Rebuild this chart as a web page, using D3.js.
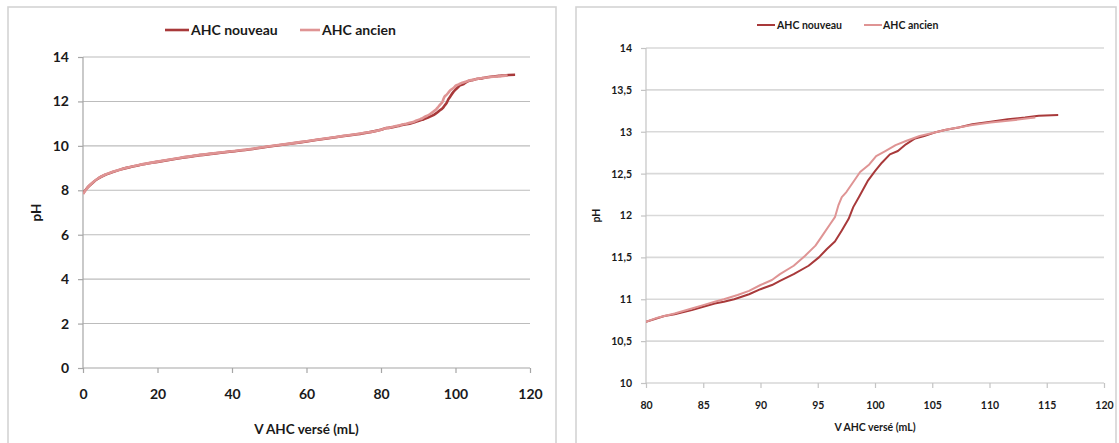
<!DOCTYPE html>
<html>
<head>
<meta charset="utf-8">
<script src="https://cdn.jsdelivr.net/npm/d3@7"></script>
<style>
  html, body { margin: 0; padding: 0; background: #fff; }
  svg { display: block; font-family: Lato, "Open Sans", sans-serif; font-weight: bold; }
</style>
</head>
<body>
<svg id="chart" width="1119" height="443"></svg>
<script>
// ---- Data ----
const seriesNames = ["AHC nouveau", "AHC ancien"];

const nouveauV = [0,1,2,3,4,5,6,8,10,12,15,20,25,30,35,40,45,50,55,60,65,70,75,80,81.6,82.5,84,85,86,86.8,87.7,89,90,91,91.7,92.9,94.2,95.1,95.8,96.5,97.1,97.7,98.1,98.6,99.4,100,100.6,101.3,102,102.7,103.5,104.3,105.2,106.1,107.3,108.5,110.1,111.6,113.1,114.3,116];
const nouveauPH = [7.85,8.08,8.25,8.4,8.52,8.62,8.7,8.82,8.93,9.02,9.13,9.28,9.42,9.55,9.65,9.75,9.85,9.97,10.08,10.2,10.32,10.44,10.56,10.73,10.8,10.82,10.87,10.91,10.95,10.97,11.0,11.06,11.12,11.17,11.22,11.3,11.4,11.5,11.6,11.69,11.82,11.96,12.1,12.22,12.42,12.53,12.63,12.73,12.77,12.85,12.92,12.95,12.99,13.02,13.05,13.09,13.12,13.15,13.17,13.19,13.2];

const ancienV = [0,1,2,3,4,5,6,8,10,12,15,20,25,30,35,40,45,50,55,60,65,70,75,80,81,82.5,84,85,86,86.8,88,89,90,91,91.7,92.9,93.9,94.8,95.4,96,96.5,96.8,97.1,97.5,98.1,98.7,99.5,100.1,100.9,101.8,102.7,103.9,105.2,106.4,108.5,110.1,111.6,113.4,114];
const ancienPH = [7.83,8.07,8.26,8.41,8.53,8.63,8.71,8.83,8.94,9.03,9.14,9.29,9.43,9.56,9.66,9.76,9.86,9.98,10.09,10.21,10.33,10.45,10.57,10.73,10.78,10.83,10.89,10.93,10.97,11.0,11.05,11.1,11.17,11.23,11.3,11.4,11.52,11.64,11.76,11.88,11.98,12.12,12.22,12.28,12.4,12.52,12.61,12.71,12.77,12.84,12.89,12.95,12.99,13.03,13.08,13.11,13.13,13.16,13.17];

const leftXTicks = [0,20,40,60,80,100,120];
const leftYTicks = [0,2,4,6,8,10,12,14];
const rightXTicks = [80,85,90,95,100,105,110,115,120];
const rightYTicks = [10,10.5,11,11.5,12,12.5,13,13.5,14];

const xTitle = "V AHC versé (mL)";
const yTitle = "pH";

// ---- Drawing ----
const colors = ["#a8393a", "#df9494"];
const svg = d3.select("#chart");

const seriesData = [
  nouveauV.map((v, i) => ({v, ph: nouveauPH[i]})),
  ancienV.map((v, i) => ({v, ph: ancienPH[i]}))
];

function drawChart(cfg) {
  const g = svg.append("g");
  g.append("rect")
    .attr("x", cfg.panel[0]).attr("y", cfg.panel[1])
    .attr("width", cfg.panel[2]).attr("height", cfg.panel[3])
    .attr("fill", "#fff").attr("stroke", "#d4d4d4").attr("stroke-width", 1.6);

  const x = d3.scaleLinear().domain(cfg.xDomain).range([cfg.plot[0], cfg.plot[1]]);
  const y = d3.scaleLinear().domain(cfg.yDomain).range([cfg.plot[3], cfg.plot[2]]);

  // gridlines
  g.append("g").selectAll("line").data(cfg.yTicks.slice(1)).join("line")
    .attr("x1", cfg.plot[0]).attr("x2", cfg.plot[1])
    .attr("y1", d => y(d)).attr("y2", d => y(d))
    .attr("stroke", cfg.gridColor).attr("stroke-width", cfg.gridWidth);

  // y axis
  const yAxis = g.append("g").attr("transform", `translate(${cfg.plot[0]},0)`)
    .call(d3.axisLeft(y).tickValues(cfg.yTicks).tickSize(cfg.tickLen).tickPadding(cfg.yPad)
      .tickFormat(d => String(d).replace(".", ",")));
  // x axis
  const xAxis = g.append("g").attr("transform", `translate(0,${cfg.plot[3]})`)
    .call(d3.axisBottom(x).tickValues(cfg.xTicks).tickSize(cfg.tickLen).tickPadding(cfg.xPad)
      .tickFormat(d => String(d)));
  [yAxis, xAxis].forEach(a => {
    a.select(".domain").attr("stroke", cfg.axisColor).attr("stroke-width", 1.2);
    a.selectAll(".tick line").attr("stroke", cfg.axisColor).attr("stroke-width", 1.2);
    a.selectAll(".tick text").attr("fill", "#1a1a1a")
      .style("font-size", cfg.tickFont + "px").style("font-family", "Lato, sans-serif").style("font-weight", "bold");
  });
  // remove domain outer tick extensions by redrawing domain as straight lines
  yAxis.select(".domain").attr("d", `M0,${cfg.plot[3]}V${cfg.plot[2]}`);
  xAxis.select(".domain").attr("d", `M${cfg.plot[0]},0H${cfg.plot[1]}`);

  // clip
  const clipId = "clip" + cfg.id;
  svg.append("clipPath").attr("id", clipId).append("rect")
    .attr("x", cfg.plot[0]).attr("y", cfg.plot[2] - 5)
    .attr("width", cfg.plot[1] - cfg.plot[0] + 5).attr("height", cfg.plot[3] - cfg.plot[2] + 5);

  const line = d3.line().x(d => x(d.v)).y(d => y(d.ph)).curve(cfg.curve);
  seriesData.forEach((s, i) => {
    const pts = s.filter(d => d.v >= cfg.xDomain[0] - 1e-9);
    g.append("path").datum(pts)
      .attr("clip-path", `url(#${clipId})`)
      .attr("fill", "none").attr("stroke", colors[i])
      .attr("stroke-width", cfg.lineWidth).attr("stroke-linejoin", "round")
      .attr("d", line);
  });

  // legend
  const L = cfg.legend;
  seriesNames.forEach((name, i) => {
    g.append("line").attr("x1", L.lines[i][0]).attr("x2", L.lines[i][1])
      .attr("y1", L.y).attr("y2", L.y).attr("stroke", colors[i]).attr("stroke-width", cfg.lineWidth);
    g.append("text").attr("x", L.texts[i]).attr("y", L.y).attr("dy", "0.35em")
      .style("font-size", L.font + "px").attr("fill", "#1a1a1a").text(name);
  });

  // titles
  g.append("text").attr("x", (cfg.plot[0] + cfg.plot[1]) / 2).attr("y", cfg.xTitleY)
    .attr("text-anchor", "middle").attr("dy", "0.35em")
    .style("font-size", cfg.titleFont + "px").attr("fill", "#1a1a1a").text(xTitle);
  g.append("text")
    .attr("transform", `translate(${cfg.yTitleX},${(cfg.plot[2] + cfg.plot[3]) / 2}) rotate(-90)`)
    .attr("text-anchor", "middle").attr("dy", "0.35em")
    .style("font-size", cfg.titleFont + "px").attr("fill", "#1a1a1a").text(yTitle);
}

drawChart({
  id: "L",
  panel: [8, 7, 548, 445],
  plot: [83, 530, 57, 368],
  xDomain: [0, 120], yDomain: [0, 14],
  xTicks: leftXTicks, yTicks: leftYTicks,
  gridColor: "#bcbcbc", gridWidth: 1.1, axisColor: "#a6a6a6",
  tickLen: 5, yPad: 9, xPad: 16, tickFont: 14,
  lineWidth: 2.6, curve: d3.curveMonotoneX,
  legend: { y: 30, lines: [[165, 189], [300, 320]], texts: [191, 322], font: 14 },
  titleFont: 13.5, xTitleY: 429, yTitleX: 36
});

drawChart({
  id: "R",
  panel: [576, 7, 540, 445],
  plot: [646, 1104, 48, 383],
  xDomain: [80, 120], yDomain: [10, 14],
  xTicks: rightXTicks, yTicks: rightYTicks,
  gridColor: "#d9d9d9", gridWidth: 1.6, axisColor: "#c4c4c4",
  tickLen: 5, yPad: 9, xPad: 14, tickFont: 10.5,
  lineWidth: 2, curve: d3.curveLinear,
  legend: { y: 25, lines: [[757, 775], [864, 882]], texts: [777, 883], font: 10.5 },
  titleFont: 10.5, xTitleY: 427, yTitleX: 596
});
</script>
</body>
</html>
